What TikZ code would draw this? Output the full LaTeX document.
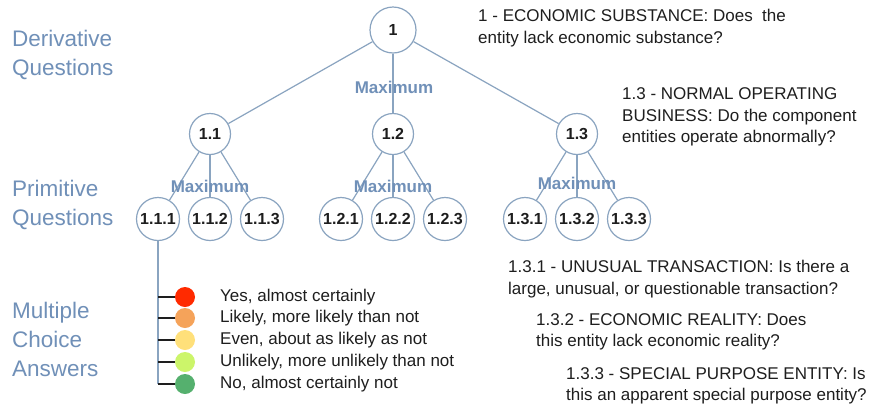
\documentclass[tikz,border=0pt]{standalone}
\usepackage{fontspec}
\setmainfont{Liberation Sans}
\definecolor{edgeblue}{HTML}{8AA4C0}
\definecolor{labelblue}{HTML}{7090B8}
\definecolor{textdark}{HTML}{1E1E1E}
\definecolor{ansred}{HTML}{FF2A00}
\definecolor{ansorange}{HTML}{F5A35A}
\definecolor{ansyellow}{HTML}{FFE07A}
\definecolor{anslime}{HTML}{CCF56A}
\definecolor{ansgreen}{HTML}{55B06E}
\tikzset{
  qnode/.style={circle,draw=edgeblue,line width=1.2pt,fill=white,inner sep=0pt,
    font=\fontsize{16}{18}\selectfont\bfseries,text=textdark},
  edge/.style={draw=edgeblue,line width=1.2pt},
  maxlabel/.style={font=\fontsize{17}{20}\selectfont\bfseries,text=labelblue},
  levellabel/.style={anchor=west,align=left,text=labelblue,inner sep=0pt,
    font=\fontsize{22.5}{29}\selectfont},
  desc/.style={anchor=west,align=left,text=textdark,inner sep=0pt,
    font=\fontsize{17}{21.5}\selectfont},
  answer/.style={circle,minimum size=20pt,inner sep=0pt}
}
\begin{document}
\begin{tikzpicture}[x=1pt,y=-1pt]
  \useasboundingbox[fill=white] (0,0) rectangle (876,408);
  % level names
  \node[levellabel] (Deriv) at (12,55) {Derivative\\Questions};
  \node[levellabel] (Prim) at (12,205) {Primitive\\Questions};
  \node[levellabel] (Multi) at (12,339) {Multiple\\Choice\\Answers};
  % tree
  \node[qnode,minimum size=46pt] (N1) at (393,30) {1};
  \node[qnode,minimum size=41pt] (N11) at (210,134) {1.1};
  \node[qnode,minimum size=41pt] (N12) at (393,134) {1.2};
  \node[qnode,minimum size=41pt] (N13) at (577,134) {1.3};
  \node[qnode,minimum size=43pt] (N111) at (158,219) {1.1.1};
  \node[qnode,minimum size=43pt] (N112) at (210,219) {1.1.2};
  \node[qnode,minimum size=43pt] (N113) at (262,219) {1.1.3};
  \node[qnode,minimum size=43pt] (N121) at (341,219) {1.2.1};
  \node[qnode,minimum size=43pt] (N122) at (393,219) {1.2.2};
  \node[qnode,minimum size=43pt] (N123) at (445,219) {1.2.3};
  \node[qnode,minimum size=43pt] (N131) at (525,219) {1.3.1};
  \node[qnode,minimum size=43pt] (N132) at (577,219) {1.3.2};
  \node[qnode,minimum size=43pt] (N133) at (629,219) {1.3.3};
  \draw[edge] (N1) -- (N11);
  \draw[edge] (N1) -- (N12);
  \draw[edge] (N1) -- (N13);
  \draw[edge] (N11) -- (N111);
  \draw[edge] (N11) -- (N112);
  \draw[edge] (N11) -- (N113);
  \draw[edge] (N12) -- (N121);
  \draw[edge] (N12) -- (N122);
  \draw[edge] (N12) -- (N123);
  \draw[edge] (N13) -- (N131);
  \draw[edge] (N13) -- (N132);
  \draw[edge] (N13) -- (N133);
  \node[maxlabel] (Max1) at (394,87) {Maximum};
  \node[maxlabel] (Max11) at (210,186) {Maximum};
  \node[maxlabel] (Max12) at (393,186) {Maximum};
  \node[maxlabel] (Max13) at (577,183) {Maximum};
  % answers
  \node[answer,fill=ansred] (A1) at (185,297) {};
  \node[answer,fill=ansorange] (A2) at (185,318) {};
  \node[answer,fill=ansyellow] (A3) at (185,340) {};
  \node[answer,fill=anslime] (A4) at (185,362) {};
  \node[answer,fill=ansgreen] (A5) at (185,384) {};
  \draw[edge] (N111) -- (N111 |- A5);
  \draw[textdark,line width=1.5pt] (N111 |- A1) -- (A1);
  \draw[textdark,line width=1.5pt] (N111 |- A2) -- (A2);
  \draw[textdark,line width=1.5pt] (N111 |- A3) -- (A3);
  \draw[textdark,line width=1.5pt] (N111 |- A4) -- (A4);
  \draw[textdark,line width=1.5pt] (N111 |- A5) -- (A5);
  \node[desc] (T1) at (220,297) {Yes, almost certainly};
  \node[desc] (T2) at (220,318) {Likely, more likely than not};
  \node[desc] (T3) at (220,340) {Even, about as likely as not};
  \node[desc] (T4) at (220,362) {Unlikely, more unlikely than not};
  \node[desc] (T5) at (220,384) {No, almost certainly not};
  % question texts
  \node[desc] (D1) at (478,28) {1 - ECONOMIC SUBSTANCE: Does\ \ the\\entity lack economic substance?};
  \node[desc] (D13) at (622,117) {1.3 - NORMAL OPERATING\\BUSINESS: Do the component\\entities operate abnormally?};
  \node[desc] (D131) at (508,279) {1.3.1 - UNUSUAL TRANSACTION: Is there a\\large, unusual, or questionable transaction?};
  \node[desc] (D132) at (536,332) {1.3.2 - ECONOMIC REALITY: Does\\this entity lack economic reality?};
  \node[desc] (D133) at (566,386) {1.3.3 - SPECIAL PURPOSE ENTITY: Is\\this an apparent special purpose entity?};
\end{tikzpicture}
\end{document}
